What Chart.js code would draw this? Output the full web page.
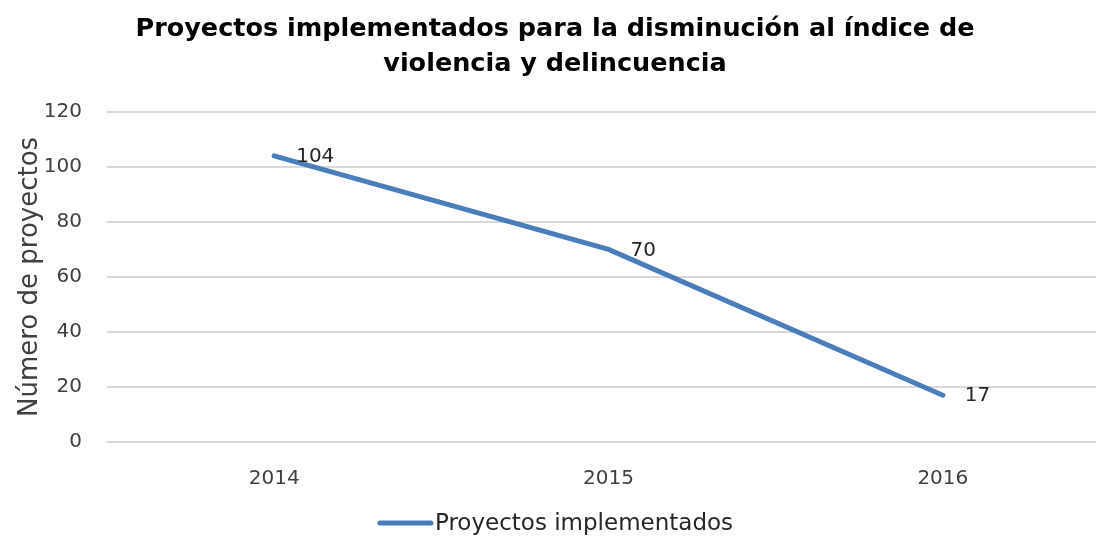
<!DOCTYPE html>
<html>
<head>
<meta charset="utf-8">
<script src="https://cdn.jsdelivr.net/npm/chart.js@4/dist/chart.umd.min.js"></script>
<style>
  html, body { margin: 0; padding: 0; background: #fff; overflow: hidden; }
  #wrap { width: 1096px; height: 537px; overflow: hidden; }
</style>
</head>
<body>
<div id="wrap"><canvas id="myChart" width="1110" height="537"></canvas></div>
<script>
const years = ['2014', '2015', '2016'];
const proyectos = [104, 70, 17];
const yTicks = [0, 20, 40, 60, 80, 100, 120];
const seriesName = 'Proyectos implementados';
const lineColor = '#4A7EBB';

const fontName = '"DejaVu Sans", sans-serif';

// value labels to the right of each point
const pointLabels = {
  id: 'pointLabels',
  afterDatasetsDraw(chart) {
    const ctx = chart.ctx;
    const meta = chart.getDatasetMeta(0);
    ctx.save();
    ctx.font = '20px ' + fontName;
    ctx.fillStyle = '#262626';
    ctx.textBaseline = 'middle';
    ctx.textAlign = 'left';
    meta.data.forEach((pt, i) => {
      ctx.fillText(String(proyectos[i]), pt.x + 22, pt.y + 1);
    });
    ctx.restore();
  }
};

// legend at the bottom, drawn like the original (line glued to the text)
const bottomLegend = {
  id: 'bottomLegend',
  afterDraw(chart) {
    const ctx = chart.ctx;
    const ds = chart.data.datasets[0];
    ctx.save();
    ctx.font = '23px ' + fontName;
    const tw = ctx.measureText(ds.label).width;
    const lineW = 56;
    const total = lineW + 2 + tw;
    const x0 = chart.width / 2 - total / 2;
    const y = 523;
    ctx.strokeStyle = ds.borderColor;
    ctx.lineWidth = 5;
    ctx.lineCap = 'round';
    ctx.beginPath();
    ctx.moveTo(x0 + 3, y);
    ctx.lineTo(x0 + lineW - 2, y);
    ctx.stroke();
    ctx.fillStyle = '#262626';
    ctx.textBaseline = 'middle';
    ctx.textAlign = 'left';
    ctx.fillText(ds.label, x0 + lineW + 2, y + 1);
    ctx.restore();
  }
};

const myChartRef = document.getElementById('myChart').getContext('2d');
new Chart(myChartRef, {
  type: 'line',
  data: {
    labels: years,
    datasets: [{
      label: seriesName,
      data: proyectos,
      borderColor: lineColor,
      backgroundColor: lineColor,
      borderWidth: 5,
      borderCapStyle: 'round',
      pointRadius: 0,
      tension: 0
    }]
  },
  options: {
    responsive: false,
    animation: false,
    layout: { padding: { top: 0, left: 0, right: 0, bottom: 48 } },
    plugins: {
      title: {
        display: true,
        text: ['Proyectos implementados para la disminución al índice de', 'violencia y delincuencia'],
        font: { family: fontName, size: 25.5, weight: 'bold', lineHeight: 1.37 },
        color: '#000',
        padding: { top: 12, bottom: 30 }
      },
      legend: { display: false },
      tooltip: { enabled: false }
    },
    scales: {
      x: {
        offset: true,
        afterFit(axis) { axis.height = 47; },
        grid: { display: false },
        border: { display: false },
        ticks: { color: '#404040', font: { family: fontName, size: 20 }, padding: 17 }
      },
      y: {
        min: 0,
        max: 120,
        afterBuildTicks(axis) { axis.ticks = yTicks.map(v => ({ value: v })); },
        afterFit(axis) { axis.width = 107; },
        grid: { color: '#d9d9d9', lineWidth: 2, drawTicks: false },
        border: { display: false },
        ticks: { color: '#404040', font: { family: fontName, size: 20 }, padding: 25 },
        title: {
          display: true,
          text: 'Número de proyectos',
          color: '#404040',
          font: { family: fontName, size: 26 },
          padding: { top: 15, bottom: 0 }
        }
      }
    }
  },
  plugins: [pointLabels, bottomLegend]
});
</script>
</body>
</html>
